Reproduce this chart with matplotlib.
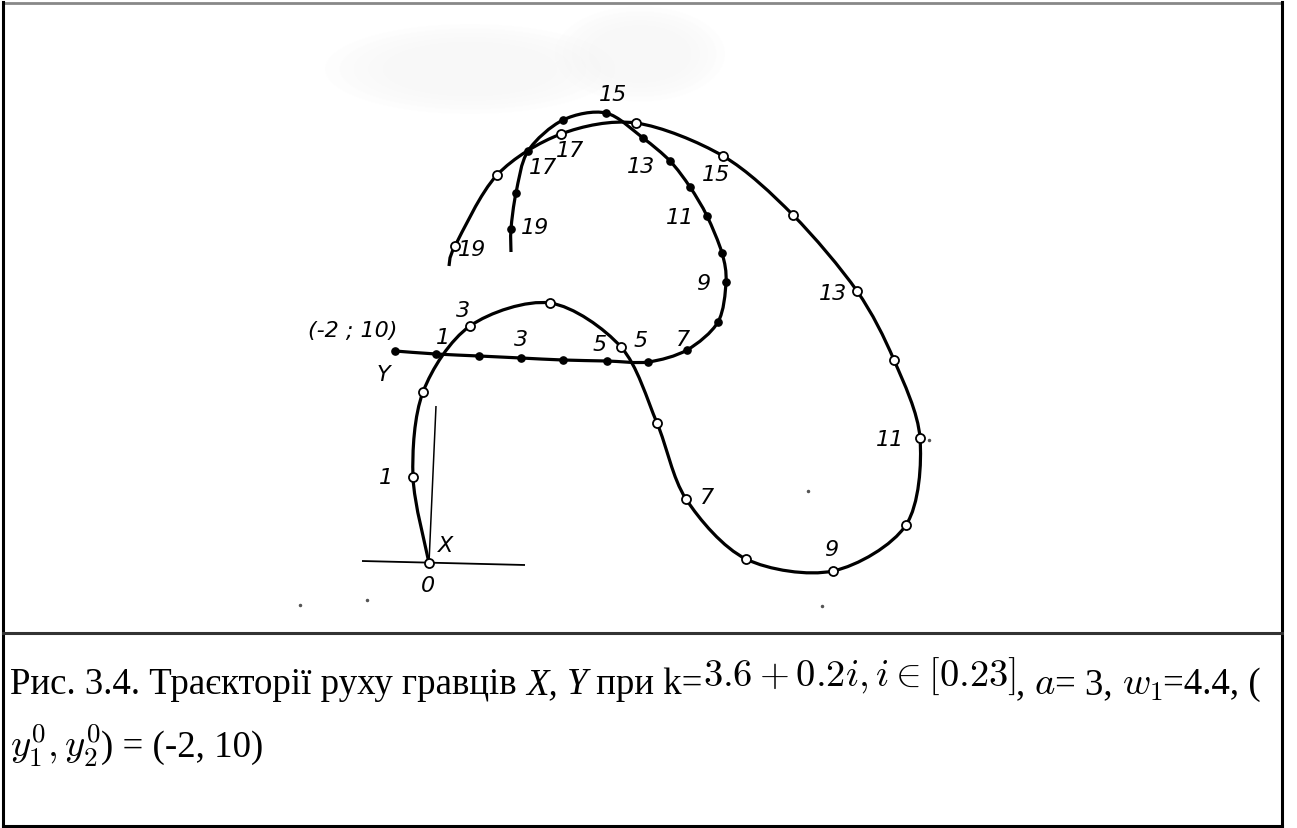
import matplotlib
matplotlib.use("Agg")
import matplotlib.pyplot as plt
import matplotlib.patches as mpatches
from matplotlib.path import Path
import numpy as np

# ---------- data (page pixel coords, y grows downward) ----------
# player X: positions at steps 0..19, then the tail of the curve
X_PX = [429, 413, 423, 470, 550, 621, 657, 686, 746, 833,
        906, 920, 894, 857, 793, 723, 636, 561, 497, 455]
X_PY = [564, 478, 393, 327, 304, 348, 424, 500, 560, 572,
        526, 439, 361, 292, 216, 157, 124, 135, 176, 247]
X_TAIL = (449, 267)

# player Y: start (-2; 10) and steps 1..19, then the tail
Y_PX = [395, 436, 479, 521, 563, 607, 648, 687, 718, 726,
        722, 707, 690, 670, 643, 606, 563, 528, 516, 511]
Y_PY = [352, 355, 357, 359, 361, 362, 363, 351, 323, 283,
        254, 217, 188, 162, 139, 114, 121, 152, 194, 230]
Y_TAIL = (511, 253)

# step numbers written next to the curves: (text, x, y)
X_LABELS = [("1", 386, 478), ("3", 463, 311), ("5", 641, 341),
            ("7", 707, 498), ("9", 831, 550), ("11", 890, 440),
            ("13", 833, 294), ("15", 716, 175), ("17", 570, 151),
            ("19", 472, 250)]
Y_LABELS = [("1", 443, 338), ("3", 521, 340), ("5", 600, 345),
            ("7", 683, 340), ("9", 703, 284), ("11", 680, 218),
            ("13", 641, 167), ("15", 613, 95), ("17", 543, 168),
            ("19", 535, 228)]

# coordinate cross at the origin of X
HLINE = ([362, 525], [562, 566])
VLINE = ([436, 429], [407, 564])

CAPTION_1 = [
    ("Рис. 3.4. Траєкторії руху гравців ", "txt"),
    ("X,", "it"), (" ", "txt"), ("Y", "it"), (" при k=", "txt"),
    (r"$3.6 + 0.2i, i \in [0.23]$", "mathup"),
    (", ", "txt"), (r"$a$", "math"), ("= 3, ", "txt"),
    (r"$w_1$", "math"), ("=4.4, (", "txt"),
]
CAPTION_2 = [
    (r"$y_1^0, y_2^0$", "math"), (") = (-2, 10)", "txt"),
]

W, H = 1297, 829
plt.rcParams["mathtext.fontset"] = "cm"

fig = plt.figure(figsize=(W / 100, H / 100), dpi=100)
ax = fig.add_axes([0, 0, 1, 1])
ax.set_xlim(0, W)
ax.set_ylim(H, 0)
ax.axis("off")


def smooth_path(xs, ys, k=6.5):
    """Catmull-Rom style curve through the points, as cubic Bezier segments."""
    p = np.column_stack([xs, ys]).astype(float)
    n = len(p)
    verts = [p[0]]
    codes = [Path.MOVETO]
    for i in range(n - 1):
        p0 = p[i - 1] if i > 0 else p[i]
        p1, p2 = p[i], p[i + 1]
        p3 = p[i + 2] if i + 2 < n else p[i + 1]
        verts += [p1 + (p2 - p0) / k, p2 - (p3 - p1) / k, p2]
        codes += [Path.CURVE4] * 3
    return Path(verts, codes)


# faint smudge at the top of the scan (feathered edges)
for cx, cy, w, h in [(470, 70, 290, 90), (640, 55, 170, 95)]:
    for s in np.linspace(1.0, 0.6, 5):
        ax.add_patch(mpatches.Ellipse((cx, cy), w * s, h * s,
                                      facecolor="#e8e8e8", alpha=0.05,
                                      edgecolor="none", zorder=0))

# ---------- axes cross ----------
ax.plot(*HLINE, color="black", lw=1.3, solid_capstyle="butt")
ax.plot(*VLINE, color="black", lw=1.1, solid_capstyle="butt")

# ---------- trajectories ----------
y_path = smooth_path(Y_PX + [Y_TAIL[0]], Y_PY + [Y_TAIL[1]])
x_path = smooth_path(X_PX + [X_TAIL[0]], X_PY + [X_TAIL[1]])
for pth in (y_path, x_path):
    ax.add_patch(mpatches.PathPatch(pth, facecolor="none", edgecolor="black",
                                    lw=2.3, capstyle="butt", zorder=2))

ax.plot(Y_PX, Y_PY, "o", ms=5.2, color="black", zorder=3)
ax.plot(X_PX, X_PY, "o", ms=6.5, mfc="white", mec="black", mew=1.3, zorder=4)

lab_kw = dict(fontsize=16, style="italic", family="DejaVu Sans",
              ha="center", va="center", zorder=5)
for s, x, y in X_LABELS + Y_LABELS:
    ax.text(x, y, s, **lab_kw)

ax.text(353, 331, "(-2 ; 10)", **lab_kw)
ax.text(383, 375, "Y", **lab_kw)
ax.text(446, 546, "X", **lab_kw)
ax.text(428, 586, "0", **lab_kw)

# small specks on the scan
ax.plot([367, 808, 929, 822, 300], [601, 492, 441, 607, 606], "o",
        ms=1.5, color="#555555", zorder=1)

# ---------- frame ----------
ax.plot([3, 1282], [4, 4], color="#888888", lw=2.0)
ax.plot([3, 3], [3, 828], color="black", lw=2.2)
ax.plot([1282, 1282], [3, 828], color="black", lw=2.2)
ax.plot([3, 1282], [827, 827], color="black", lw=2.2)
ax.plot([3, 1282], [634, 634], color="#333333", lw=2.2)

# ---------- caption ----------
renderer = fig.canvas.get_renderer()
STYLE = {
    "txt": dict(family="Liberation Serif", fontsize=26.6),
    "it": dict(family="Liberation Serif", fontsize=26.6, style="italic"),
    "math": dict(family="Liberation Serif", fontsize=27.8),
    "mathup": dict(family="Liberation Serif", fontsize=27.8),
}
RAISE = {"txt": 0, "it": 0, "math": 0, "mathup": -8}


def put_run(x, y, pieces):
    for s, kind in pieces:
        t = ax.text(x, y + RAISE[kind], s, va="baseline", ha="left",
                    **STYLE[kind])
        bb = t.get_window_extent(renderer)
        x += bb.width


put_run(10, 694, CAPTION_1)
put_run(10, 757, CAPTION_2)

fig.savefig("out.png", dpi=100)
